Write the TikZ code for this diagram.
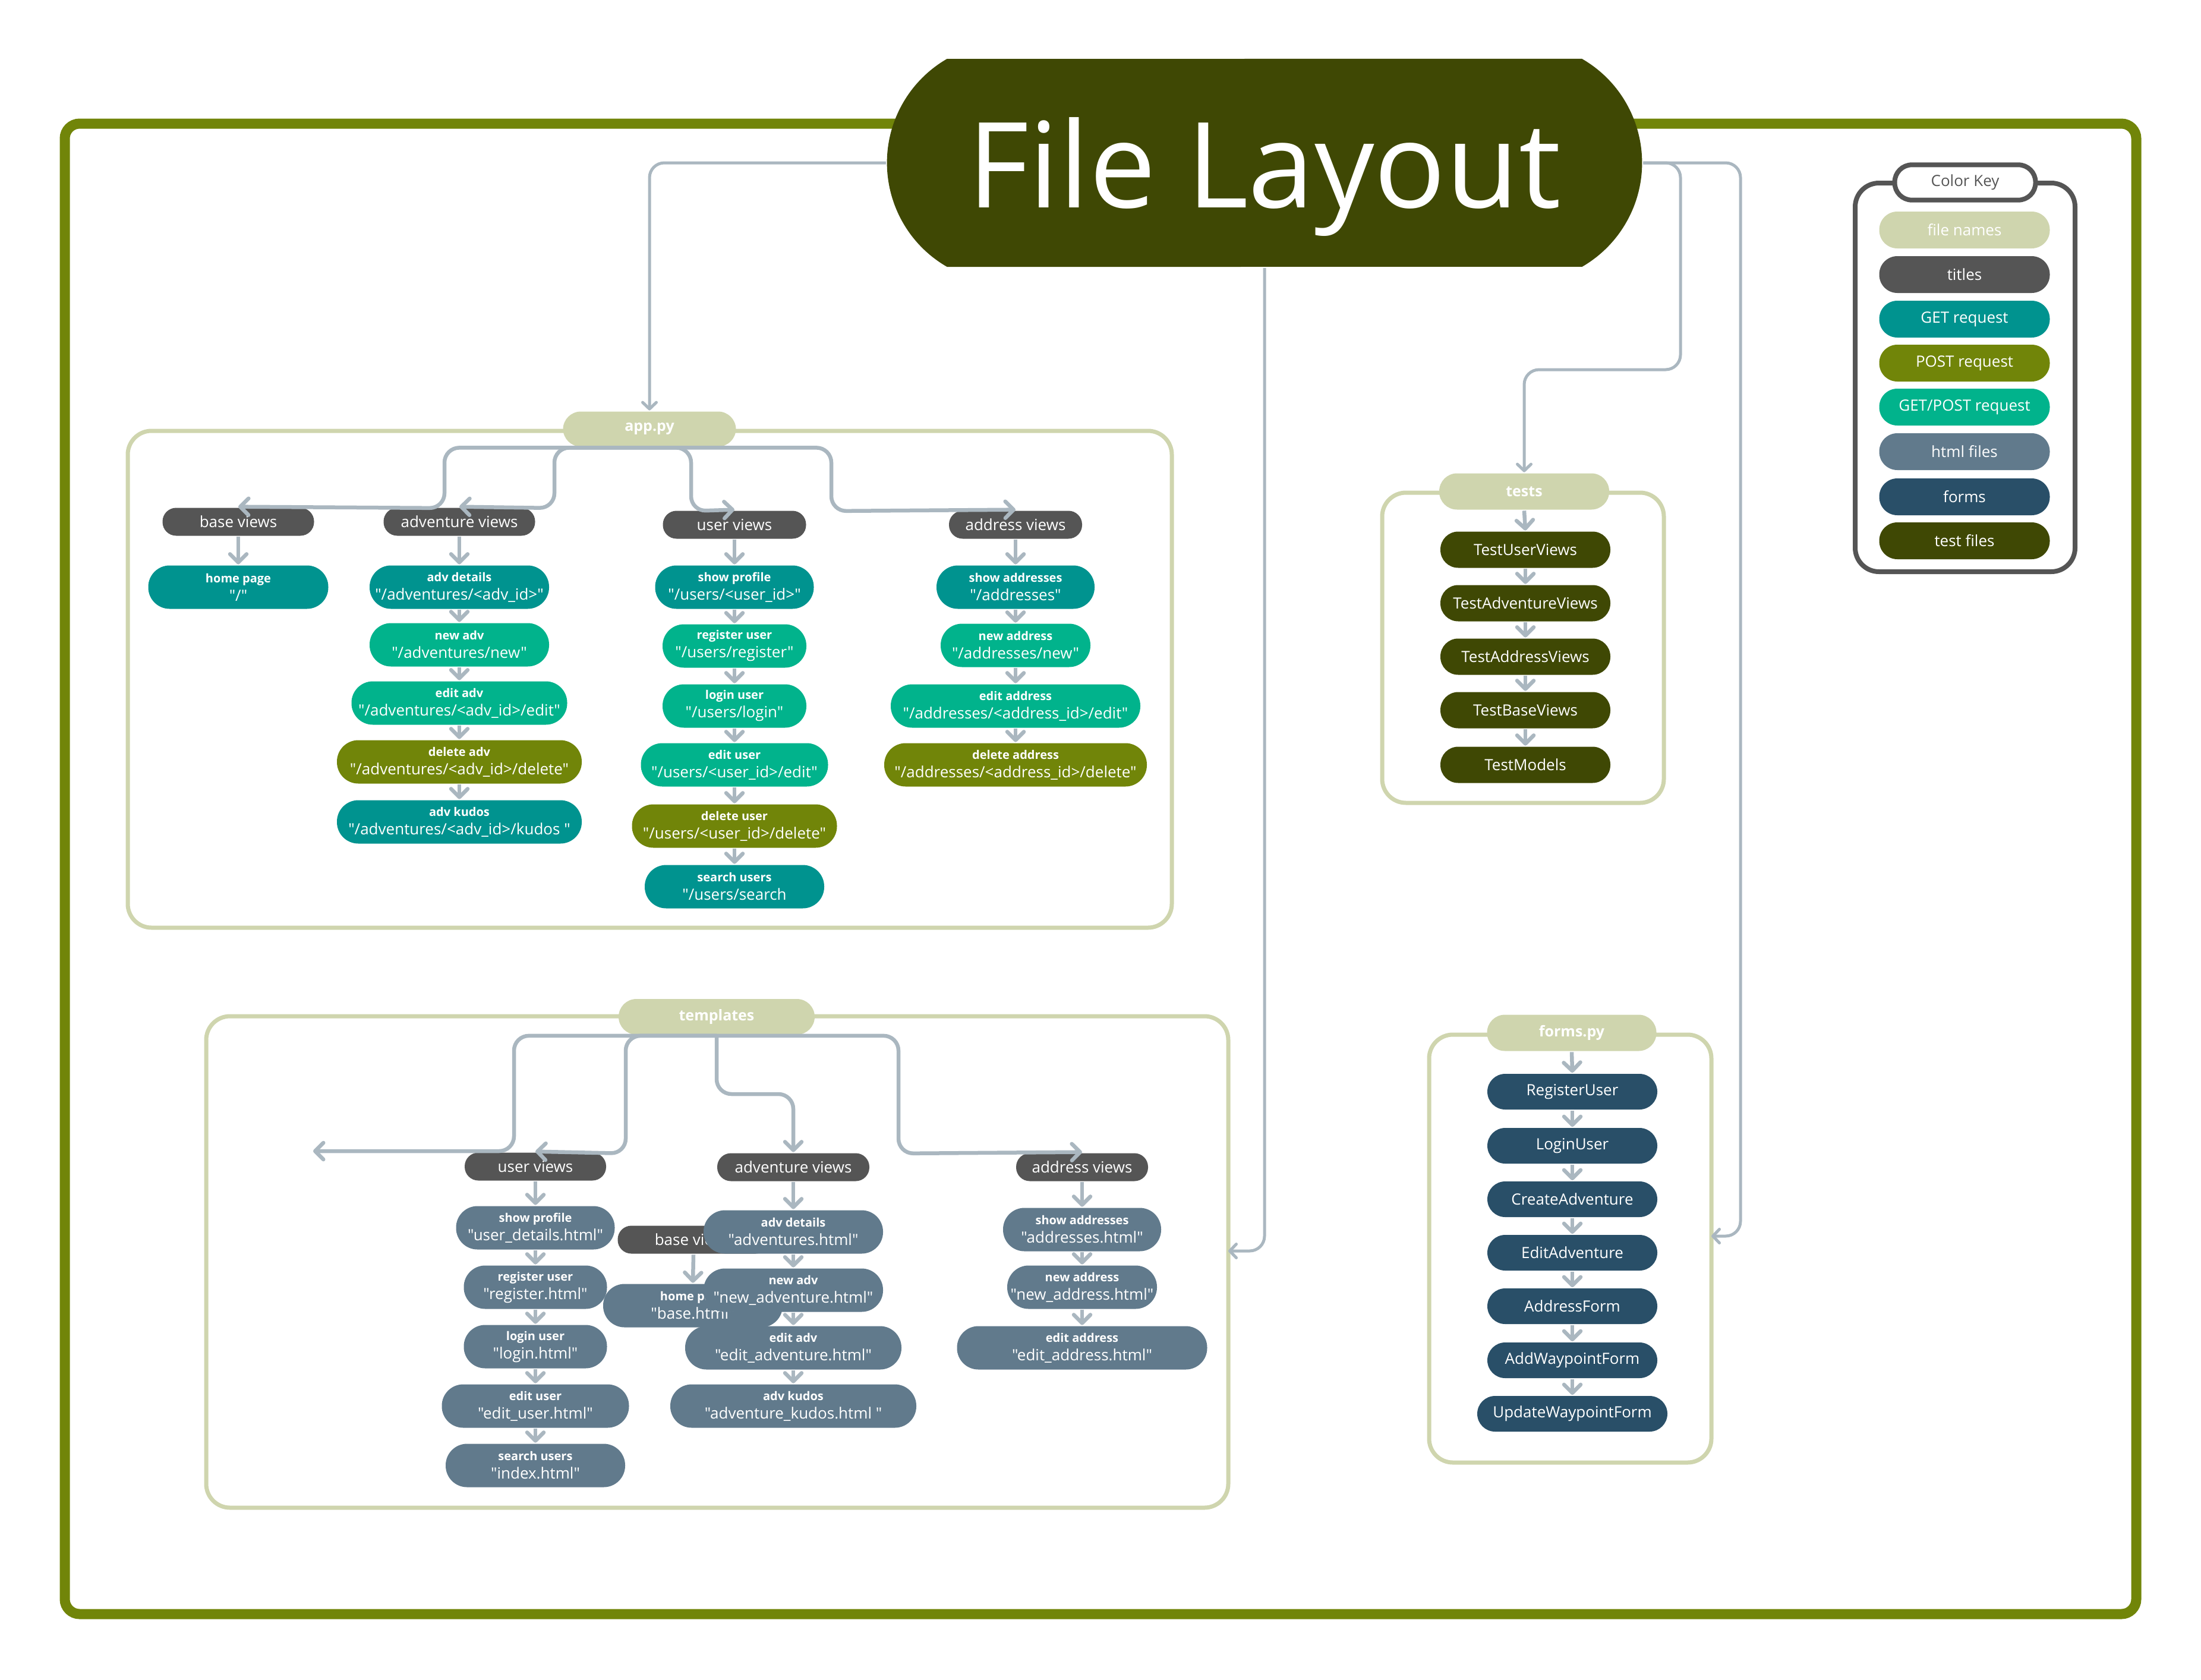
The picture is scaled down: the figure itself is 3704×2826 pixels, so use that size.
\documentclass[tikz,border=0pt]{standalone}
\usepackage{fontspec}
\setmainfont{Open Sans}[Ligatures=TeXOff]
\usetikzlibrary{arrows.meta,shapes.misc}

\definecolor{frameOlive}{HTML}{718509}
\definecolor{darkOlive}{HTML}{3F4804}
\definecolor{sage}{HTML}{CFD5AE}
\definecolor{titleGray}{HTML}{555555}
\definecolor{getTeal}{HTML}{00938F}
\definecolor{gpGreen}{HTML}{01B38C}
\definecolor{htmlSlate}{HTML}{617A8C}
\definecolor{formNavy}{HTML}{294F68}
\definecolor{connGray}{HTML}{AAB7C0}

\newcommand{\twoln}[2]{{\bfseries\fontsize{4}{4.8}\selectfont #1}\\#2}

\tikzset{every picture/.style={line width=0.75pt}}
\tikzset{
  pill/.style={rectangle, rounded corners=7.2pt, inner sep=0pt, minimum height=14.6pt, text=white, align=center, font=\fontsize{5.2}{6.2}\selectfont},
  getreq/.style={fill=getTeal},
  postreq/.style={fill=frameOlive},
  gpreq/.style={fill=gpGreen},
  htmlf/.style={fill=htmlSlate},
  headpill/.style={pill, rounded corners=4.6pt, minimum height=9.4pt, fill=titleGray},
  filepill/.style={pill, rounded corners=6pt, minimum height=12pt, fill=sage, font=\bfseries\fontsize{5}{6}\selectfont},
  formpill/.style={pill, rounded corners=6pt, minimum height=12pt, minimum width=57.2pt, fill=formNavy},
  testpill/.style={pill, rounded corners=6pt, minimum height=12.2pt, minimum width=57.2pt, fill=darkOlive},
  keypill/.style={pill, rounded corners=6.1pt, minimum height=12.4pt, minimum width=57.4pt},
  secbox/.style={draw=sage, line width=1.4pt, rounded corners=8pt},
  conn/.style={draw=connGray, line width=1.3pt, rounded corners=5pt, -{Straight Barb[length=2.8pt,width=5.6pt,round]}},
  thinconn/.style={draw=connGray, line width=1pt, rounded corners=5pt, -{Straight Barb[length=2.2pt,width=4.6pt,round]}}
}

\begin{document}
\begin{tikzpicture}[x=0.2pt,y=0.2pt,yscale=-1,xscale=1]
\path[use as bounding box] (0,0) rectangle (3704,2826);

%Shape: Outer Frame
\draw[frameOlive, line width=3.4pt, rounded corners=5pt] (109,208) rectangle (3595,2716);

%Shape: Section Boxes
\draw[secbox] (215,725) rectangle (1972,1561);
\draw[secbox] (347,1710) rectangle (2067,2537);
\draw[secbox] (2326,829) rectangle (2800,1351);
\draw[secbox] (2405,1741) rectangle (2880,2461);
%Shape: Color Key Box
\draw[titleGray, line width=1.6pt, rounded corners=8pt] (3122,308) rectangle (3492,962);

% free ends
\coordinate (tplIn) at (2067,2105);
\coordinate (formIn) at (2880,2080);
\coordinate (tLoose) at (527,1937);

% Title
\node[rounded rectangle, rounded rectangle arc length=120, fill=darkOlive, minimum width=260.8pt, minimum height=70pt, text=white, text depth=0pt, font=\fontsize{40}{40}\selectfont] (title) at (2128,274) {File Layout};

% app.py
\node[filepill, minimum width=58.2pt, minimum height=11.8pt] (app) at (1093,722) {app.py};
\node[headpill, minimum width=51pt] (aBase) at (401,878) {base views};
\node[headpill, minimum width=51pt] (aAdv) at (773,878) {adventure views};
\node[headpill, minimum width=48.2pt] (aUser) at (1236,883) {user views};
\node[headpill, minimum width=44.8pt] (aAddr) at (1709,883) {address views};

\node[pill, getreq, minimum width=60.6pt] (aHome) at (401,988) {\twoln{home page}{"/"}};

\node[pill, getreq, minimum width=60.4pt] (aAdvDet) at (773,988) {\twoln{adv details}{"/adventures/<adv\_id>"}};
\node[pill, gpreq, minimum width=60.4pt] (aAdvNew) at (773,1085) {\twoln{new adv}{"/adventures/new"}};
\node[pill, gpreq, minimum width=72.6pt] (aAdvEdit) at (773,1183) {\twoln{edit adv}{"/adventures/<adv\_id>/edit"}};
\node[pill, postreq, minimum width=82.4pt] (aAdvDel) at (773,1282) {\twoln{delete adv}{"/adventures/<adv\_id>/delete"}};
\node[pill, getreq, minimum width=82.4pt] (aAdvKud) at (773,1383) {\twoln{adv kudos}{"/adventures/<adv\_id>/kudos "}};

\node[pill, getreq, minimum width=53.4pt] (aUsrShow) at (1236,988) {\twoln{show profile}{"/users/<user\_id>"}};
\node[pill, gpreq, minimum width=48.4pt] (aUsrReg) at (1236,1087) {\twoln{register user}{"/users/register"}};
\node[pill, gpreq, minimum width=48.4pt] (aUsrLog) at (1236,1188) {\twoln{login user}{"/users/login"}};
\node[pill, gpreq, minimum width=63pt] (aUsrEdit) at (1236,1287) {\twoln{edit user}{"/users/<user\_id>/edit"}};
\node[pill, postreq, minimum width=69pt] (aUsrDel) at (1236,1390) {\twoln{delete user}{"/users/<user\_id>/delete"}};
\node[pill, getreq, minimum width=60.4pt] (aUsrFind) at (1236,1492) {\twoln{search users}{"/users/search}};

\node[pill, getreq, minimum width=53.2pt] (aAdrShow) at (1709,988) {\twoln{show addresses}{"/addresses"}};
\node[pill, gpreq, minimum width=50.4pt] (aAdrNew) at (1709,1086) {\twoln{new address}{"/addresses/new"}};
\node[pill, gpreq, minimum width=84pt] (aAdrEdit) at (1709,1188) {\twoln{edit address}{"/addresses/<address\_id>/edit"}};
\node[pill, postreq, minimum width=88.4pt] (aAdrDel) at (1709,1287) {\twoln{delete address}{"/addresses/<address\_id>/delete"}};

% templates
\node[filepill, minimum width=66pt] (tpl) at (1206,1711) {templates};
\node[headpill, minimum width=47.6pt] (tUser) at (901,1963) {user views};
\node[headpill, minimum width=51.2pt] (tAdv) at (1335,1964) {adventure views};
\node[headpill, minimum width=44.4pt] (tAddr) at (1821,1964) {address views};
\node[headpill, minimum width=51pt] (tBase) at (1167,2086) {base views};
\node[pill, htmlf, minimum width=60.4pt] (tHome) at (1166,2197) {\twoln{home page}{"base.html"}};

\node[pill, htmlf, minimum width=53.4pt] (tUsrShow) at (901,2066) {\twoln{show profile}{"user\_details.html"}};
\node[pill, htmlf, minimum width=48.2pt] (tUsrReg) at (901,2166) {\twoln{register user}{"register.html"}};
\node[pill, htmlf, minimum width=48.2pt] (tUsrLog) at (901,2266) {\twoln{login user}{"login.html"}};
\node[pill, htmlf, minimum width=63pt] (tUsrEdit) at (901,2366) {\twoln{edit user}{"edit\_user.html"}};
\node[pill, htmlf, minimum width=60.4pt] (tUsrFind) at (901,2466) {\twoln{search users}{"index.html"}};

\node[pill, htmlf, minimum width=60.4pt] (tAdvDet) at (1335,2073) {\twoln{adv details}{"adventures.html"}};
\node[pill, htmlf, minimum width=60.4pt] (tAdvNew) at (1335,2171) {\twoln{new adv}{"new\_adventure.html"}};
\node[pill, htmlf, minimum width=72.8pt] (tAdvEdit) at (1335,2268) {\twoln{edit adv}{"edit\_adventure.html"}};
\node[pill, htmlf, minimum width=82.8pt] (tAdvKud) at (1335,2366) {\twoln{adv kudos}{"adventure\_kudos.html "}};

\node[pill, htmlf, minimum width=53.2pt] (tAdrShow) at (1821,2069) {\twoln{show addresses}{"addresses.html"}};
\node[pill, htmlf, minimum width=50.4pt] (tAdrNew) at (1821,2166) {\twoln{new address}{"new\_address.html"}};
\node[pill, htmlf, minimum width=84.2pt] (tAdrEdit) at (1821,2268) {\twoln{edit address}{"edit\_address.html"}};

% tests
\node[filepill, minimum width=57.2pt, minimum height=12.2pt] (tests) at (2565,827) {tests};
\node[testpill] (tsUser) at (2567,925) {TestUserViews};
\node[testpill] (tsAdv) at (2567,1015) {TestAdventureViews};
\node[testpill] (tsAddr) at (2567,1105) {TestAddressViews};
\node[testpill] (tsBase) at (2567,1195) {TestBaseViews};
\node[testpill] (tsModel) at (2567,1287) {TestModels};

% forms.py
\node[filepill, minimum width=57pt, minimum height=12.2pt] (forms) at (2645,1738) {forms.py};
\node[formpill] (fReg) at (2646,1837) {RegisterUser};
\node[formpill] (fLog) at (2646,1928) {LoginUser};
\node[formpill] (fCreate) at (2646,2018) {CreateAdventure};
\node[formpill] (fEdit) at (2646,2108) {EditAdventure};
\node[formpill] (fAddr) at (2646,2198) {AddressForm};
\node[formpill] (fAddWp) at (2646,2289) {AddWaypointForm};
\node[formpill, minimum width=64pt] (fUpdWp) at (2646,2379) {UpdateWaypointForm};

% Color Key
\node[rectangle, rounded corners=5.8pt, draw=titleGray, line width=1.6pt, fill=white, minimum width=47.4pt, minimum height=11.6pt, text=titleGray, font=\fontsize{5.2}{6.2}\selectfont] (kLabel) at (3307,307) {Color Key};
\node[keypill, fill=sage] (kFile) at (3306,387) {file names};
\node[keypill, fill=titleGray] (kTitle) at (3306,462) {titles};
\node[keypill, fill=getTeal] (kGet) at (3306,537) {GET request};
\node[keypill, fill=frameOlive] (kPost) at (3306,611) {POST request};
\node[keypill, fill=gpGreen] (kGetPost) at (3306,685) {GET/POST request};
\node[keypill, fill=htmlSlate] (kHtml) at (3306,760) {html files};
\node[keypill, fill=formNavy] (kForm) at (3306,836) {forms};
\node[keypill, fill=darkOlive] (kTest) at (3306,910) {test files};

% title connectors
\draw[thinconn] (title.west) -| (app.north);
\draw[thinconn] (title.south) |- (tplIn);
\draw[thinconn] (title.east) -| (2828,622) -| (tests.north);
\draw[thinconn] (title.east) -| (2929,2080) -- (formIn);

% app.py connectors
\draw[conn] (app.south) -| (748,855) -- (aBase.north);
\draw[conn] (app.south) -| (933,855) -- (aAdv.north);
\draw[conn] (app.south) -| (1163,860) -- (aUser.north);
\draw[conn] (app.south) -| (1399,860) -- (aAddr.north);
\draw[conn] (aBase.south) -- (aHome.north);
\draw[conn] (aAdv.south) -- (aAdvDet.north);
\draw[conn] (aAdvDet.south) -- (aAdvNew.north);
\draw[conn] (aAdvNew.south) -- (aAdvEdit.north);
\draw[conn] (aAdvEdit.south) -- (aAdvDel.north);
\draw[conn] (aAdvDel.south) -- (aAdvKud.north);
\draw[conn] (aUser.south) -- (aUsrShow.north);
\draw[conn] (aUsrShow.south) -- (aUsrReg.north);
\draw[conn] (aUsrReg.south) -- (aUsrLog.north);
\draw[conn] (aUsrLog.south) -- (aUsrEdit.north);
\draw[conn] (aUsrEdit.south) -- (aUsrDel.north);
\draw[conn] (aUsrDel.south) -- (aUsrFind.north);
\draw[conn] (aAddr.south) -- (aAdrShow.north);
\draw[conn] (aAdrShow.south) -- (aAdrNew.north);
\draw[conn] (aAdrNew.south) -- (aAdrEdit.north);
\draw[conn] (aAdrEdit.south) -- (aAdrDel.north);

% templates connectors
\draw[conn] (tpl.south) -| (865,1937) -- (tLoose);
\draw[conn] (tpl.south) -| (1053,1941) -- (tUser.north);
\draw[conn] (tpl.south) -- (1206,1841) -| (tAdv.north);
\draw[conn] (tpl.south) -| (1512,1941) -- (tAddr.north);
\draw[conn] (tBase.south) -- (tHome.north);
\draw[conn] (tUser.south) -- (tUsrShow.north);
\draw[conn] (tUsrShow.south) -- (tUsrReg.north);
\draw[conn] (tUsrReg.south) -- (tUsrLog.north);
\draw[conn] (tUsrLog.south) -- (tUsrEdit.north);
\draw[conn] (tUsrEdit.south) -- (tUsrFind.north);
\draw[conn] (tAdv.south) -- (tAdvDet.north);
\draw[conn] (tAdvDet.south) -- (tAdvNew.north);
\draw[conn] (tAdvNew.south) -- (tAdvEdit.north);
\draw[conn] (tAdvEdit.south) -- (tAdvKud.north);
\draw[conn] (tAddr.south) -- (tAdrShow.north);
\draw[conn] (tAdrShow.south) -- (tAdrNew.north);
\draw[conn] (tAdrNew.south) -- (tAdrEdit.north);

% tests connectors
\draw[conn] (tests.south) -- (tsUser.north);
\draw[conn] (tsUser.south) -- (tsAdv.north);
\draw[conn] (tsAdv.south) -- (tsAddr.north);
\draw[conn] (tsAddr.south) -- (tsBase.north);
\draw[conn] (tsBase.south) -- (tsModel.north);

% forms connectors
\draw[conn] (forms.south) -- (fReg.north);
\draw[conn] (fReg.south) -- (fLog.north);
\draw[conn] (fLog.south) -- (fCreate.north);
\draw[conn] (fCreate.south) -- (fEdit.north);
\draw[conn] (fEdit.south) -- (fAddr.north);
\draw[conn] (fAddr.south) -- (fAddWp.north);
\draw[conn] (fAddWp.south) -- (fUpdWp.north);

\end{tikzpicture}
\end{document}
